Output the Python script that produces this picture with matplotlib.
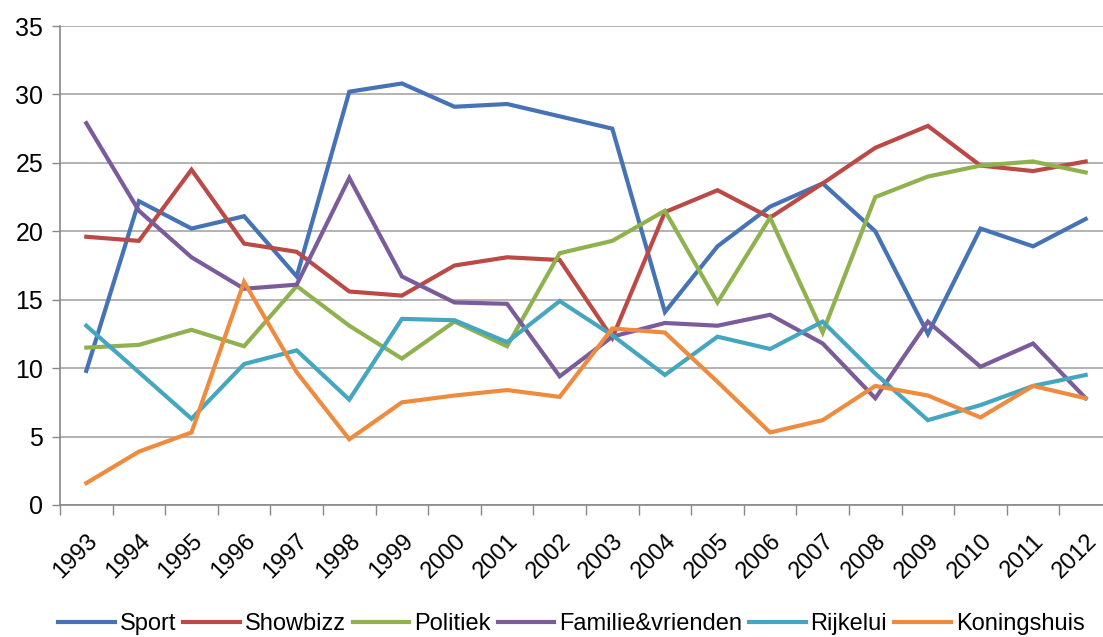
import numpy as np
import matplotlib
matplotlib.use("Agg")
import matplotlib.pyplot as plt
from matplotlib.ticker import FixedLocator

plt.rcParams['font.family'] = ['Liberation Sans Narrow', 'Liberation Sans', 'DejaVu Sans']

years = list(range(1993, 2013))

sport       = [9.8, 22.2, 20.2, 21.1, 16.7, 30.2, 30.8, 29.1, 29.3, 28.4,
               27.5, 14.1, 18.9, 21.8, 23.5, 20.0, 12.5, 20.2, 18.9, 20.9]
showbizz    = [19.6, 19.3, 24.5, 19.1, 18.5, 15.6, 15.3, 17.5, 18.1, 17.9,
               12.2, 21.4, 23.0, 21.0, 23.5, 26.1, 27.7, 24.8, 24.4, 25.1]
politiek    = [11.5, 11.7, 12.8, 11.6, 16.0, 13.1, 10.7, 13.4, 11.6, 18.4,
               19.3, 21.5, 14.8, 21.0, 12.6, 22.5, 24.0, 24.8, 25.1, 24.3]
familie     = [27.9, 21.5, 18.1, 15.8, 16.1, 23.9, 16.7, 14.8, 14.7, 9.4,
               12.3, 13.3, 13.1, 13.9, 11.8, 7.8, 13.4, 10.1, 11.8, 7.8]
rijkelui    = [13.1, 9.7, 6.3, 10.3, 11.3, 7.7, 13.6, 13.5, 11.9, 14.9,
               12.4, 9.5, 12.3, 11.4, 13.4, 9.6, 6.2, 7.3, 8.7, 9.5]
koningshuis = [1.6, 3.9, 5.3, 16.3, 9.7, 4.8, 7.5, 8.0, 8.4, 7.9,
               12.9, 12.6, 9.0, 5.3, 6.2, 8.7, 8.0, 6.4, 8.7, 7.8]

series = [
    ("Sport", sport, "#4573b5"),
    ("Showbizz", showbizz, "#bb4a47"),
    ("Politiek", politiek, "#8fb24f"),
    ("Familie&vrienden", familie, "#7a5c9b"),
    ("Rijkelui", rijkelui, "#45a6bf"),
    ("Koningshuis", koningshuis, "#ee8b3e"),
]

fig = plt.figure(figsize=(11.03, 6.37), dpi=100)
ax = fig.add_axes([60 / 1103, 1 - 505 / 637, 1052 / 1103, 479 / 637])

x = np.arange(len(years))
for name, vals, col in series:
    ax.plot(x, vals, color=col, lw=3.0, label=name, solid_joinstyle='miter')

ax.set_ylim(0, 35)
ax.set_yticks(np.arange(0, 36, 5))
ax.set_xlim(-0.5, len(years) - 0.5)
ax.set_xticks(x)
ax.set_xticklabels([str(y) for y in years], rotation=45, ha='right',
                   rotation_mode='anchor', fontsize=17)
ax.xaxis.set_minor_locator(FixedLocator(np.arange(-0.5, len(years), 1.0)))
ax.tick_params(axis='x', which='major', length=0, pad=18)
ax.tick_params(axis='x', which='minor', length=7, color='#888888', width=1)
ax.tick_params(axis='y', length=6, color='#888888', width=1, labelsize=18, pad=6)

ax.grid(axis='y', color='#a6a6a6', lw=1.2)
ax.set_axisbelow(True)
for s in ['top', 'right']:
    ax.spines[s].set_visible(False)
for s in ['left', 'bottom']:
    ax.spines[s].set_color('#888888')
    ax.spines[s].set_linewidth(1.2)

fig.legend(loc='lower center', bbox_to_anchor=(0.518, -0.03), ncol=6, frameon=False,
           fontsize=17, handlelength=2.4, columnspacing=0.3, handletextpad=0.2)

fig.savefig("out.png", dpi=100)
